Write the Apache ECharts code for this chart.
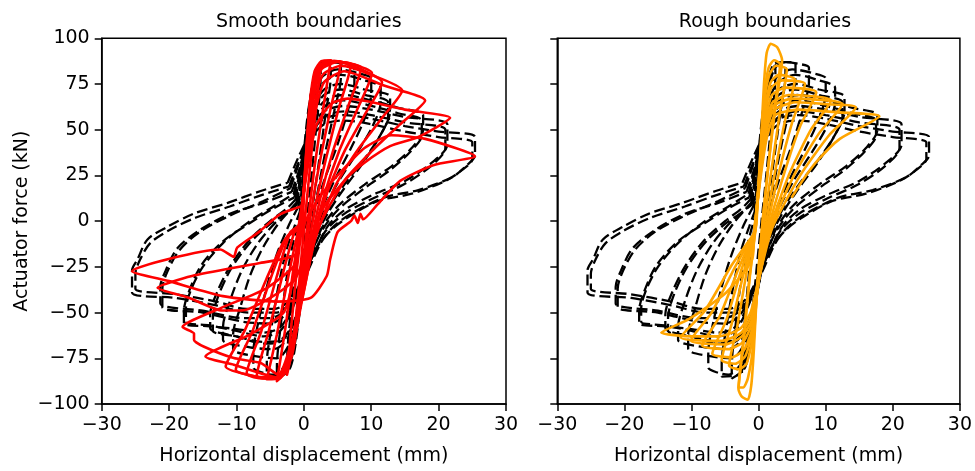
<!DOCTYPE html>
<html>
<head>
<meta charset="utf-8">
<script src="https://cdn.jsdelivr.net/npm/echarts@6/dist/echarts.min.js"></script>
<style>
  html, body { margin: 0; padding: 0; background: #fff; }
  #chart { width: 975px; height: 471px; }
</style>
</head>
<body>
<div id="chart"></div>
<script>
// Axis ranges and ticks (mm / kN)
const xTicks = [-30, -20, -10, 0, 10, 20, 30];
const yTicks = [-100, -75, -50, -25, 0, 25, 50, 75, 100];
const panelTitles = ['Smooth boundaries', 'Rough boundaries'];
const xLabel = 'Horizontal displacement (mm)';
const yLabel = 'Actuator force (kN)';

// Reference hysteresis (dashed black), one [displacement, force] path per cycle
const referenceCycles = [
  [[-0.5,0],[0.3,40],[1.2,70],[2.5,85],[2.5,80],[1.8,50],[1,20],[0,-15],[-1,-50],[-2.5,-83],[-2.5,-78],[-1.9,-48],[-1.2,-20],[-0.5,0]],
  [[-0.5,3],[0.3,42],[1.2,72],[2.3,86],[4,87],[4,80],[3.2,58],[2.3,34],[1.3,8],[0.3,-20],[-0.8,-55],[-2,-80],[-4,-86],[-4,-80],[-3.4,-56],[-2.6,-32],[-1.6,-12],[-0.5,3]],
  [[-0.6,5],[0.2,40],[1,68],[2.2,84],[4,87],[5.5,87],[5.5,79],[4.5,60],[3.2,38],[2,15],[0.8,-10],[-0.4,-40],[-1.5,-70],[-3,-84],[-5.5,-85],[-5.5,-78],[-4.8,-58],[-3.8,-36],[-2.6,-16],[-1.4,-3],[-0.6,5]],
  [[-0.8,8],[0,38],[0.8,64],[2,82],[4,87],[6,86],[7.5,84],[7.5,76],[6.5,60],[5,42],[3,22],[1.5,4],[0.3,-20],[-1,-55],[-2.5,-77],[-4.5,-84],[-6,-83],[-7.5,-80],[-7.5,-72],[-6.8,-56],[-5.5,-36],[-4,-18],[-2.2,-2],[-0.8,8]],
  [[-1,10],[0,38],[1,62],[2.5,78],[5,83],[8,81],[10,78],[10,70],[9,56],[7,40],[4.5,22],[2.5,5],[1,-15],[-0.5,-45],[-2,-66],[-4,-75],[-7,-74],[-10.5,-70],[-10.5,-62],[-9.5,-48],[-8,-30],[-6,-14],[-3.5,0],[-1,10]],
  [[-1,9],[0,36],[1.1,60],[2.7,75],[5.5,80],[9,77],[11.4,73],[11.4,65],[10.2,52],[8,38],[5.2,22],[2.8,5],[1.1,-14],[-0.5,-42],[-2,-62],[-4.5,-70],[-8,-69],[-12,-65],[-12,-58],[-11,-44],[-9.2,-27],[-6.8,-12],[-4,0],[-1,9]],
  [[-1.2,12],[0,38],[1.2,60],[3,72],[5.5,75],[9,72],[12.8,68],[12.8,60],[11.5,48],[9,34],[6,20],[3.5,6],[1.5,-10],[0,-35],[-1.5,-56],[-3.5,-66],[-6,-67],[-10,-63],[-13.9,-58.5],[-13.9,-51],[-13,-40],[-11,-25],[-8,-10],[-5,0],[-2.5,7],[-1.2,12]],
  [[-1.1,10],[0,36],[1.2,58],[3,69],[5.5,72],[9,69],[12.5,65],[12.5,57],[11.2,46],[8.8,32],[6,18],[3.5,4],[1.4,-12],[-0.1,-36],[-1.6,-56],[-3.5,-65],[-6,-66],[-10,-63],[-13.5,-60],[-13.5,-53],[-12.7,-41],[-10.8,-26],[-7.8,-11],[-4.8,-1],[-2.4,5],[-1.1,10]],
  [[-1.5,15],[0,38],[1.5,58],[3.5,67],[6,69],[10,66],[14,62],[17.7,58],[17.7,50],[16,40],[13,30],[9,20],[5,8],[2.5,-5],[0.5,-25],[-1.5,-46],[-3.5,-60],[-6,-63],[-10,-60],[-14,-57],[-17.5,-55],[-17.5,-48],[-16.8,-38],[-15,-25],[-12,-12],[-8,0],[-4.5,8],[-1.5,15]],
  [[-1.4,13],[0,36],[1.5,55],[3.5,64],[6,66],[10,63],[14,59],[17.5,55],[17.5,47],[15.8,38],[12.8,28],[9,18],[5,6],[2.4,-7],[0.4,-26],[-1.6,-46],[-3.5,-58],[-6,-61],[-10,-59],[-14,-57.5],[-17.8,-56],[-17.8,-49],[-17,-38],[-15.2,-24],[-12,-11],[-8,-1],[-4.5,7],[-1.4,13]],
  [[-2,18],[-0.5,34],[1,50],[3,60],[6,63],[10,61],[15,57],[21.3,53],[21.3,42],[19,32],[15,22],[10,14],[6,6],[3.5,-3],[1.5,-18],[-0.5,-35],[-2.5,-50],[-5,-56],[-9,-55],[-15,-50],[-21,-47],[-21,-37],[-20.3,-28],[-18.5,-16],[-15.5,-6],[-11,3],[-6,11],[-2,18]],
  [[-1.8,16],[-0.3,32],[1,47],[3,57],[6,60],[10,58],[15,54],[21,50],[21,40],[18.8,30],[14.8,20],[10,12],[6,4],[3.3,-5],[1.3,-19],[-0.6,-35],[-2.5,-48],[-5,-53],[-9,-53],[-15,-49],[-21.3,-45],[-21.3,-36],[-20.5,-27],[-18.8,-15],[-15.5,-5],[-11,4],[-6,10],[-1.8,16]],
  [[-2.4,21],[-0.8,35],[1,48],[3,56],[6,58],[10,56],[15,52],[20,49],[25.4,46],[25.4,36],[24,30],[22,24],[17,17],[12,13],[7,4],[4.4,-3],[2.5,-12],[0.5,-28],[-1.5,-42],[-4,-50],[-8,-50],[-13,-46],[-19,-42],[-25.5,-39],[-25.5,-27],[-24.7,-21],[-23.2,-10],[-20.2,-3],[-16.4,4],[-11.3,10],[-6.4,16.5],[-2.4,21]],
  [[-2.2,19],[-0.8,32],[1,45],[3,53],[6,55],[10,53],[15,49],[20,46],[25,43],[25,34],[23.5,28],[21,22],[16,15],[11,11],[6.5,2],[4,-5],[2,-14],[0,-30],[-2,-43],[-4.5,-48],[-8.5,-48],[-13,-44],[-19,-40],[-25,-37],[-25,-29],[-24.3,-21],[-22.8,-12],[-20,-5],[-16,2],[-11,8],[-6.5,14],[-2.2,19]]
];

// Smooth-boundary test (red)
const smoothCycles = [
  [[-0.2,0],[0.4,40],[1,68],[1.8,82],[2.5,85],[1.6,55],[0.8,25],[0,-5],[-0.8,-38],[-1.6,-68],[-2.5,-84],[-1.8,-55],[-1,-25],[-0.2,0]],
  [[-0.3,0],[0.3,35],[0.9,65],[1.6,82],[2.6,87.5],[4,88],[2.8,60],[1.6,30],[0.6,0],[-0.4,-30],[-1.4,-60],[-2.6,-82],[-4,-87.5],[-2.8,-60],[-1.5,-25],[-0.3,0]],
  [[-0.3,0],[0.4,38],[1,66],[1.8,82],[3,87],[4.5,87.5],[5.5,87],[4,62],[2.5,35],[1.2,8],[0,-25],[-1.2,-55],[-2.4,-78],[-3.6,-86],[-5.5,-86.5],[-4,-62],[-2.4,-32],[-1,-8],[-0.3,0]],
  [[-0.3,0],[0.5,40],[1.1,68],[2,83],[3.5,87.5],[5.5,87],[7,86],[5.2,62],[3.4,36],[1.8,10],[0.3,-22],[-1,-52],[-2.2,-76],[-3.8,-86],[-5.5,-86],[-7,-85],[-5.2,-60],[-3.2,-30],[-1.4,-6],[-0.3,0]],
  [[-0.4,-2],[0.5,38],[1.2,68],[2.2,84],[4,87.5],[6.5,86.5],[8.5,84],[6.5,62],[4.3,38],[2.4,12],[0.6,-20],[-0.8,-50],[-2,-75],[-3.8,-86],[-6,-86],[-8.5,-83.5],[-6.3,-60],[-4,-30],[-2,-6],[-0.4,-2]],
  [[-0.5,-3],[0.5,36],[1.3,68],[2.4,84],[4.5,87.5],[7.5,85.5],[10.1,81],[7.8,60],[5.2,38],[3,14],[0.8,-18],[-0.6,-48],[-1.8,-74],[-3.8,-86],[-6.5,-85.5],[-10.1,-81.3],[-7.6,-60],[-4.8,-30],[-2.4,-8],[-0.5,-3]],
  [[-0.6,-4],[0.5,34],[1.4,66],[2.6,83],[5,87],[8.5,83],[11.6,76],[9,58],[6,38],[3.5,16],[1,-16],[-0.5,-46],[-1.8,-72],[-3.8,-85.5],[-7,-85],[-11.6,-79.5],[-8.8,-60],[-5.6,-32],[-2.8,-10],[-0.6,-4]],
  [[-0.7,-5],[0.5,32],[1.5,62],[2.8,80],[5.5,85],[10,80],[14.6,71.5],[11.5,56],[7.8,38],[4.5,18],[1.5,-12],[-0.3,-44],[-1.8,-70],[-3.9,-85.5],[-10.4,-78.5],[-14.6,-74],[-8,-62],[-3,-50],[-1.2,-25],[-0.7,-5]],
  [[-0.8,-6],[0.5,30],[1.6,58],[3,76],[6,82],[12,74],[18,66],[14,52],[10,38],[6,22],[2,-5],[0,-38],[-1.8,-66],[-3.8,-84],[-6.4,-77.6],[-10.4,-74.9],[-14.8,-68.7],[-16.3,-65],[-16.3,-61.5],[-18,-57.9],[-12,-47],[-5.7,-37],[-1.3,-23.7],[-0.8,-6]],
  [[-0.9,-6],[0.5,28],[1.8,52],[4,64],[6.5,67],[9.4,65.6],[15,61],[21.7,56.5],[17,46],[12.8,41],[9,32],[6.4,23.7],[3,8],[0.8,-12],[-1.3,-31.7],[-5,-42],[-9.2,-48.9],[-12.1,-48.9],[-17,-42],[-21.7,-36.4],[-16.6,-30],[-6.7,-23],[-1.3,-18.5],[-0.9,-6]],
  [[-0.9,-8],[0.8,4],[2.5,14],[5,25],[9,40],[13,47],[18,45],[25.4,35.5],[19.2,30.6],[14.3,22],[10.9,9],[8.8,1],[8.4,4],[8,-1],[7.5,3],[7,0],[5,-6],[3.9,-21],[3.4,-30],[1,-42],[-4,-44],[-12,-41],[-20,-32.8],[-25.5,-27.4],[-12.4,-15.5],[-10.4,-19.5],[-9.9,-14.5],[-6.7,-6],[-3.5,3.8],[0,8.6]]
];

// Rough-boundary test (orange)
const roughCycles = [
  [[-0.3,0],[0.3,40],[0.8,75],[1.2,92],[1.8,97],[2.8,95],[3.5,88],[2.6,65],[1.6,35],[0.6,0],[-0.2,-35],[-0.7,-70],[-1.1,-90],[-1.6,-97.7],[-2.5,-96],[-3,-92],[-2.2,-65],[-1.3,-30],[-0.3,0]],
  [[-0.4,-2],[0.3,38],[0.9,70],[1.5,84],[2.3,88],[3.2,86],[2.4,62],[1.5,32],[0.6,0],[-0.2,-35],[-0.8,-68],[-1.6,-86],[-2.3,-91],[-3,-91],[-2.3,-66],[-1.4,-32],[-0.4,-2]],
  [[-0.4,-3],[0.3,36],[0.9,66],[1.6,80],[2.6,85],[4.2,83],[3.2,60],[2,30],[0.8,-2],[-0.1,-34],[-0.8,-62],[-1.8,-78],[-3,-81],[-4.4,-79],[-3.2,-58],[-1.8,-28],[-0.4,-3]],
  [[-0.5,-4],[0.3,34],[1,63],[1.8,76],[3,80],[5.4,77.5],[4,56],[2.5,28],[1,-4],[-0.1,-34],[-0.9,-60],[-2,-74],[-3.5,-78],[-5.5,-76],[-4,-56],[-2.2,-28],[-0.5,-4]],
  [[-0.5,-5],[0.3,32],[1,60],[1.9,73],[3.5,77],[6.9,75],[5,54],[3,26],[1.2,-5],[0,-33],[-0.9,-58],[-2.1,-70],[-4,-74.5],[-6.9,-72.5],[-4.8,-54],[-2.6,-27],[-0.5,-5]],
  [[-0.6,-6],[0.3,30],[1.1,57],[2,69],[4,73],[8.6,70.5],[6.2,52],[3.8,26],[1.4,-5],[0,-33],[-1,-56],[-2.3,-66],[-4.5,-70],[-8.4,-68],[-5.8,-52],[-3,-26],[-0.6,-6]],
  [[-0.6,-6],[0.3,28],[1.1,54],[2.1,65],[4.5,69],[10.8,66],[7.8,50],[4.6,26],[1.6,-5],[0,-33],[-1,-54],[-2.5,-63],[-5,-67.5],[-10.1,-65.3],[-7,-50],[-3.5,-25],[-0.6,-6]],
  [[-0.7,-7],[0.3,27],[1.2,52],[2.2,63],[5,67],[12.5,64],[9,48],[5.4,26],[1.8,-4],[0,-32],[-1.1,-52],[-2.6,-61],[-5.5,-65.5],[-11.6,-63.6],[-8,-49],[-4,-24],[-0.7,-7]],
  [[-0.7,-7],[0.3,26],[1.2,50],[2.3,61],[5.5,65],[10,64],[14.5,62.3],[10.5,47],[6.2,25],[2,-4],[0,-32],[-1.2,-50],[-2.8,-59],[-6,-63],[-10,-63],[-14.5,-61],[-10.4,-53.6],[-4.9,-39.3],[-1,-21.3],[-0.7,-7]],
  [[-0.7,-8],[0.3,24],[1.3,47],[2.5,58],[6,61],[12,59.5],[18,57.4],[12.1,45],[8.5,32],[6.5,22],[4.9,12.8]]
];

const FONT = 'DejaVu Sans';
const FS = 19;
const minusFmt = v => String(v).replace('-', '\u2212');

const chart = echarts.init(document.getElementById('chart'), null, { renderer: 'canvas' });

const grids = [
  { left: 101.7, top: 38.3, width: 404.3, height: 371 },
  { left: 557.3, top: 38.3, width: 405.4, height: 371 }
].map(g => Object.assign({ show: true, borderColor: '#000', borderWidth: 1.5, backgroundColor: 'transparent' }, g));

function xAxisFor(i) {
  return {
    gridIndex: i, type: 'value', min: xTicks[0], max: xTicks[xTicks.length - 1], interval: 10,
    name: xLabel, nameLocation: 'middle', nameGap: 43,
    nameTextStyle: { fontFamily: FONT, fontSize: FS, color: '#000' },
    axisLine: { show: true, onZero: false, lineStyle: { color: '#000', width: 1.5 } },
    axisTick: { show: true, inside: false, length: 7, lineStyle: { color: '#000', width: 1.5 } },
    axisLabel: { show: true, margin: 12, fontFamily: FONT, fontSize: FS, color: '#000', formatter: minusFmt },
    splitLine: { show: false }
  };
}
function yAxisFor(i) {
  return {
    gridIndex: i, type: 'value', min: yTicks[0], max: yTicks[yTicks.length - 1], interval: 25,
    name: i === 0 ? yLabel : '', nameLocation: 'middle', nameGap: 70, nameRotate: 90,
    nameTextStyle: { fontFamily: FONT, fontSize: FS, color: '#000' },
    axisLine: { show: true, onZero: false, lineStyle: { color: '#000', width: 1.5 } },
    axisTick: { show: true, inside: false, length: 7, lineStyle: { color: '#000', width: 1.5 } },
    axisLabel: { show: i === 0, margin: 12, fontFamily: FONT, fontSize: FS, color: '#000', formatter: minusFmt },
    splitLine: { show: false }
  };
}

function loopSeries(cycles, panel, color, dashed, z) {
  return cycles.map(c => ({
    type: 'line', xAxisIndex: panel, yAxisIndex: panel, data: c,
    showSymbol: false, symbol: 'none', smooth: dashed ? 0.3 : 0.2, silent: true, z: z,
    lineStyle: dashed
      ? { color: color, width: 2.3, type: [10.8, 4.7], cap: 'butt' }
      : { color: color, width: 2.6, type: 'solid', join: 'round' }
  }));
}

const series = [].concat(
  loopSeries(referenceCycles, 0, '#000000', true, 2),
  loopSeries(smoothCycles, 0, '#ff0000', false, 3),
  loopSeries(referenceCycles, 1, '#000000', true, 2),
  loopSeries(roughCycles, 1, '#ffa500', false, 3)
);

chart.setOption({
  animation: false,
  backgroundColor: '#ffffff',
  title: [
    { text: panelTitles[0], left: 303.8, top: 8, textAlign: 'center',
      textStyle: { fontFamily: FONT, fontSize: FS, fontWeight: 'normal', color: '#000' } },
    { text: panelTitles[1], left: 760, top: 8, textAlign: 'center',
      textStyle: { fontFamily: FONT, fontSize: FS, fontWeight: 'normal', color: '#000' } }
  ],
  grid: grids,
  xAxis: [xAxisFor(0), xAxisFor(1)],
  yAxis: [yAxisFor(0), yAxisFor(1)],
  series: series
});
</script>
</body>
</html>
